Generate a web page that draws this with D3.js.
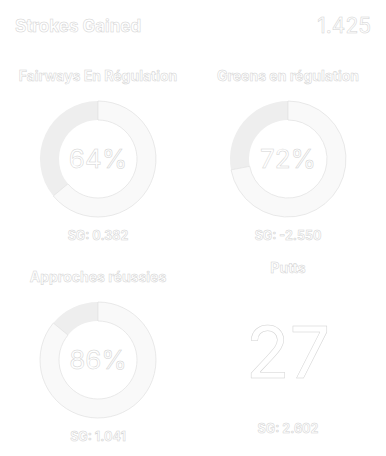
<!DOCTYPE html>
<html>
<head>
<meta charset="utf-8">
<script src="https://cdn.jsdelivr.net/npm/d3@7"></script>
<style>
  body { margin: 0; background: #fff; }
  text { font-family: Inter, "Noto Sans", sans-serif; fill: #fff; stroke: #d2d2d2; stroke-width: 0.5px; }
</style>
</head>
<body>
<div id="chart"></div>
<script>
// data
var headerLabel = "Strokes Gained";
var headerValue = "1.425";
var statTitles = ["Fairways En Régulation", "Greens en régulation", "Approches réussies", "Putts"];
var statPercents = [64, 72, 86, null];
var statCounts = [null, null, null, 27];
var statSG = ["0.382", "-2.550", "1.041", "2.602"];

var svgWidth = 386;
var svgHeight = 456;

var svg = d3.select("#chart")
    .append("svg")
    .attr("width", svgWidth)
    .attr("height", svgHeight);

// header
svg.append("text")
    .attr("x", 15)
    .attr("y", 32)
    .style("font-size", "17px")
    .style("font-weight", "700")
    .text(headerLabel);

svg.append("text")
    .attr("x", 371)
    .attr("y", 33)
    .attr("text-anchor", "end")
    .style("font-size", "21px")
    .style("font-weight", "400")
    .text(headerValue);

// grid of panels
var colX = d3.scalePoint().domain([0, 1]).range([98, 288]);
var panels = [
    { titleY: 81, centerY: 159, sgY: 240 },
    { titleY: 81, centerY: 159, sgY: 240 },
    { titleY: 282, centerY: 360, sgY: 441 },
    { titleY: 273, centerY: 352, sgY: 433 }
];

var outerR = 58;
var innerR = 39;
var pct = d3.scaleLinear().domain([0, 100]).range([0, 2 * Math.PI]);
var arc = d3.arc().innerRadius(innerR).outerRadius(outerR);

statTitles.forEach(function(title, i) {
    var cx = colX(i % 2);
    var p = panels[i];
    var g = svg.append("g");

    g.append("text")
        .attr("x", cx)
        .attr("y", p.titleY)
        .attr("text-anchor", "middle")
        .style("font-size", "14px")
        .style("font-weight", "700")
        .text(title);

    if (statPercents[i] !== null) {
        var donut = g.append("g")
            .attr("transform", `translate(${cx}, ${p.centerY})`);

        // remaining part
        donut.append("path")
            .attr("d", arc({ startAngle: pct(statPercents[i]), endAngle: pct(100) }))
            .attr("fill", "#eeeeee")
            .attr("stroke", "none");

        // achieved part
        donut.append("path")
            .attr("d", arc({ startAngle: pct(0), endAngle: pct(statPercents[i]) }))
            .attr("fill", "#f9f9f9")
            .attr("stroke", "#dcdcdc")
            .attr("stroke-width", 0.6);

        donut.append("text")
            .attr("text-anchor", "middle")
            .attr("dy", "0.35em")
            .style("font-size", "26px")
            .style("font-weight", "400")
            .text(statPercents[i] + "%");
    } else {
        g.append("text")
            .attr("x", cx)
            .attr("y", p.centerY)
            .attr("text-anchor", "middle")
            .attr("dy", "0.36em")
            .style("font-size", "72px")
            .style("font-weight", "400")
            .text(statCounts[i]);
    }

    g.append("text")
        .attr("x", cx)
        .attr("y", p.sgY)
        .attr("text-anchor", "middle")
        .style("font-size", "12.5px")
        .style("font-weight", "700")
        .text("SG: " + statSG[i]);
});
</script>
</body>
</html>
